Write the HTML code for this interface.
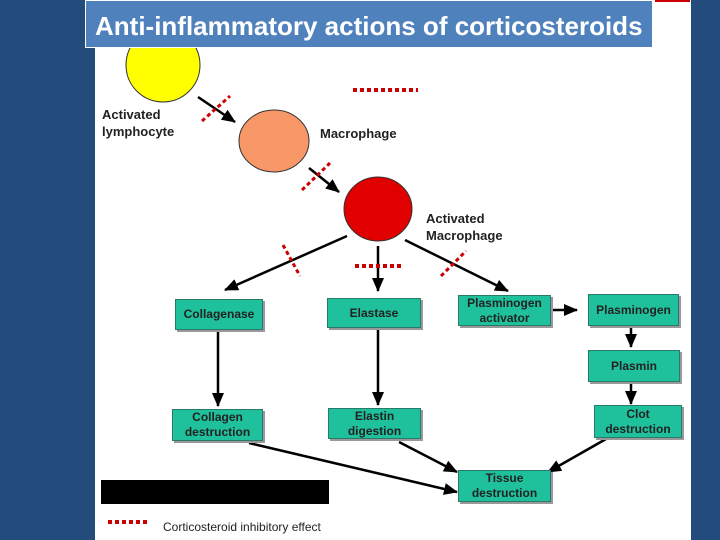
<!DOCTYPE html>
<html><head><style>
body{margin:0;width:720px;height:540px;background:#234b7c;position:relative;overflow:hidden;font-family:"Liberation Sans",sans-serif}
.panel{position:absolute;left:95px;top:0;width:596px;height:540px;background:#fff}
.title{position:absolute;left:85px;top:0;background:#4f81bd;border:1px solid #fff;color:#fff;font-weight:bold;font-size:26px;line-height:50px;padding-left:9px;box-sizing:border-box;width:568px;height:48px;white-space:nowrap;overflow:hidden}
.b{position:absolute;background:#1fc09c;border:1px solid #2a7a6a;box-shadow:2px 2px 0 #999;font-weight:bold;font-size:12px;color:#222;display:flex;align-items:center;justify-content:center;text-align:center;line-height:15px}
.t{position:absolute;font-weight:bold;font-size:13px;color:#222;line-height:17px}
</style></head><body>
<div class="panel"></div>
<svg width="720" height="540" style="position:absolute;left:0;top:0">
<defs>
<marker id="m" markerWidth="14" markerHeight="12" refX="13" refY="6" orient="auto" markerUnits="userSpaceOnUse"><path d="M0,0L14,6L0,12z" fill="#000"/></marker></defs>
<rect x="655" y="0" width="35" height="2" fill="#c00"/>
<circle cx="163" cy="65" r="37" fill="#ffff00" stroke="#333"/>
<ellipse cx="274" cy="141" rx="35" ry="31" fill="#f89868" stroke="#333"/>
<ellipse cx="378" cy="209" rx="34" ry="32" fill="#e00000" stroke="#333"/>
<g stroke="#000" stroke-width="2.5" fill="none">
<line x1="198" y1="97" x2="235" y2="122" marker-end="url(#m)"/>
<line x1="309" y1="168" x2="339" y2="192" marker-end="url(#m)"/>
<line x1="347" y1="236" x2="225" y2="290" marker-end="url(#m)"/>
<line x1="378" y1="246" x2="378" y2="291" marker-end="url(#m)"/>
<line x1="405" y1="240" x2="508" y2="291" marker-end="url(#m)"/>
<line x1="218" y1="332" x2="218" y2="406" marker-end="url(#m)"/>
<line x1="378" y1="330" x2="378" y2="405" marker-end="url(#m)"/>
<line x1="552" y1="310" x2="577" y2="310" marker-end="url(#m)"/>
<line x1="631" y1="327" x2="631" y2="347" marker-end="url(#m)"/>
<line x1="631" y1="384" x2="631" y2="404" marker-end="url(#m)"/>
<line x1="249" y1="443" x2="457" y2="492" marker-end="url(#m)"/>
<line x1="399" y1="442" x2="457" y2="472" marker-end="url(#m)"/>
<line x1="606" y1="439" x2="548" y2="472" marker-end="url(#m)"/>
</g>
<g stroke="#c00" stroke-width="4" stroke-dasharray="4,3" fill="none">
<line x1="353" y1="90" x2="418" y2="90"/>
<line x1="355" y1="266" x2="402" y2="266"/>
<line x1="202" y1="121" x2="230" y2="96" stroke-width="3"/>
<line x1="302" y1="190" x2="330" y2="163" stroke-width="3"/>
<line x1="283" y1="245" x2="300" y2="276" stroke-width="3"/>
<line x1="441" y1="276" x2="466" y2="251" stroke-width="3"/>
<line x1="108" y1="522" x2="150" y2="522"/>
</g>
</svg>
<div class="title">Anti-inflammatory actions of corticosteroids</div>
<div class="t" style="left:102px;top:106px">Activated<br>lymphocyte</div>
<div class="t" style="left:320px;top:125px">Macrophage</div>
<div class="t" style="left:426px;top:210px">Activated<br>Macrophage</div>
<div class="b" style="left:175px;top:299px;width:86px;height:29px">Collagenase</div>
<div class="b" style="left:327px;top:298px;width:92px;height:28px">Elastase</div>
<div class="b" style="left:458px;top:295px;width:91px;height:29px">Plasminogen<br>activator</div>
<div class="b" style="left:588px;top:294px;width:89px;height:30px">Plasminogen</div>
<div class="b" style="left:588px;top:350px;width:90px;height:30px">Plasmin</div>
<div class="b" style="left:172px;top:409px;width:89px;height:30px">Collagen<br>destruction</div>
<div class="b" style="left:328px;top:408px;width:91px;height:29px">Elastin<br>digestion</div>
<div class="b" style="left:594px;top:405px;width:86px;height:31px">Clot<br>destruction</div>
<div class="b" style="left:458px;top:470px;width:91px;height:30px">Tissue<br>destruction</div>
<div style="position:absolute;left:101px;top:480px;width:228px;height:24px;background:#000"></div>
<div style="position:absolute;left:163px;top:520px;font-size:12px;color:#222">Corticosteroid inhibitory effect</div>
</body></html>
